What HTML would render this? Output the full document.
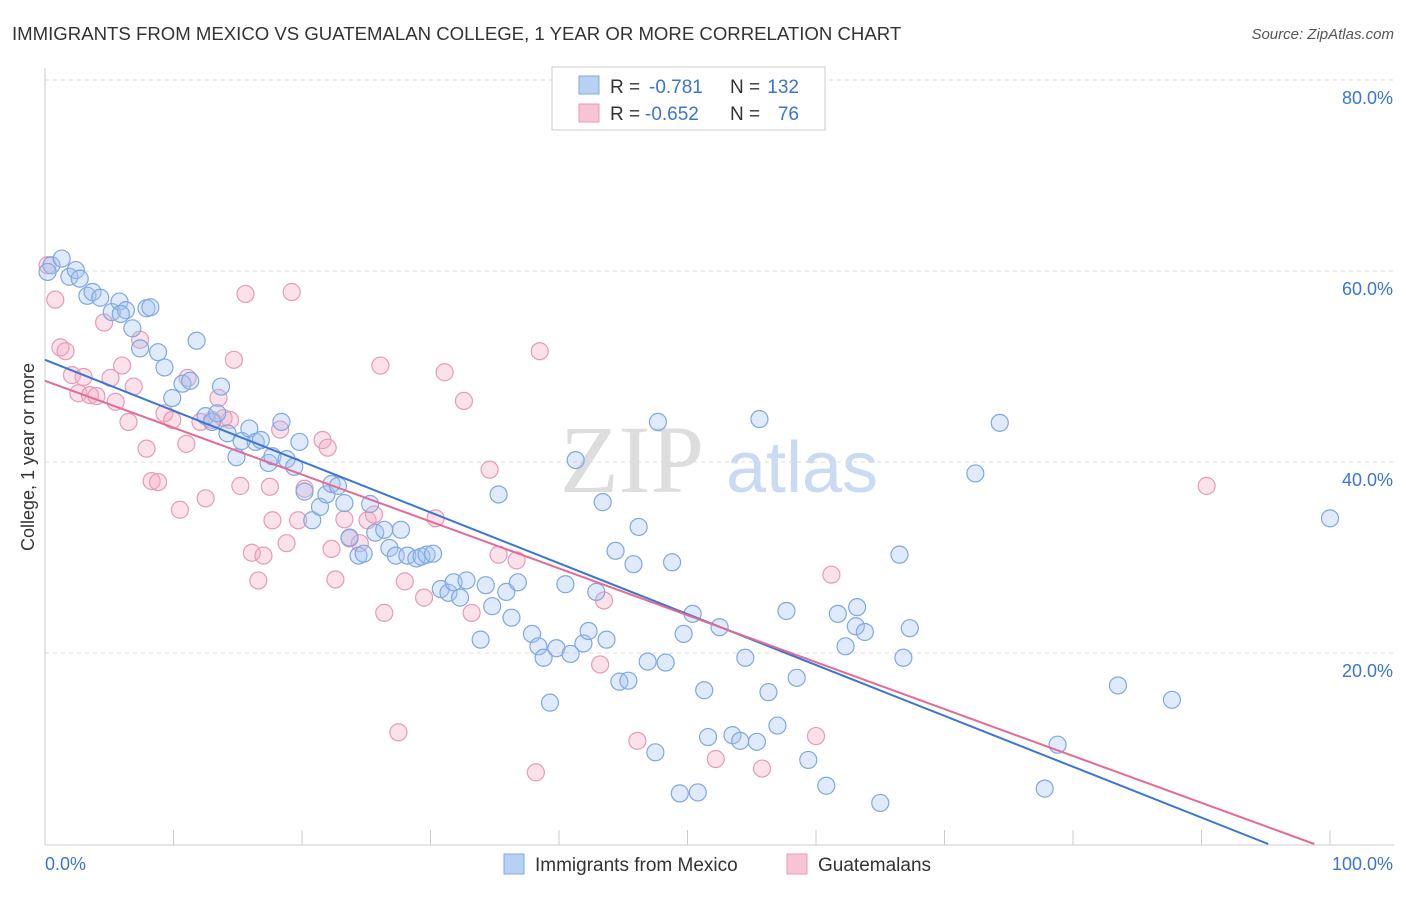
<!DOCTYPE html>
<html><head><meta charset="utf-8"><style>
body{margin:0;background:#fff;font-family:"Liberation Sans",sans-serif}
</style></head><body>
<svg id="c" width="1406" height="892" xmlns="http://www.w3.org/2000/svg">
<text x="12" y="40" font-size="18.6" fill="#333">IMMIGRANTS FROM MEXICO VS GUATEMALAN COLLEGE, 1 YEAR OR MORE CORRELATION CHART</text>
<text x="1394" y="39" font-size="15" fill="#555" font-style="italic" text-anchor="end">Source: ZipAtlas.com</text>
<text x="632" y="492" font-size="96" fill="#ddd" font-family="Liberation Serif,serif" text-anchor="middle">ZIP</text>
<text x="802" y="492" font-size="72" fill="#c9daf3" text-anchor="middle">atlas</text>
<text transform="translate(34,457) rotate(-90)" font-size="18" fill="#333" text-anchor="middle">College, 1 year or more</text>
<g id="grid"></g><g id="pts"></g><g id="lines"></g>
<g>
<rect x="552" y="67" width="273" height="63" fill="#fff" stroke="#ccc"/>
<rect x="579" y="76" width="20" height="18" fill="#b8d0f4" stroke="#7fa8e0"/>
<rect x="579" y="104" width="20" height="18" fill="#f7c4d5" stroke="#e89ab5"/>
<text x="610" y="93" font-size="19" fill="#333">R =</text>
<text x="649" y="93" font-size="19" fill="#3b74d4">-0.781</text>
<text x="730" y="93" font-size="19" fill="#333">N =</text>
<text x="799" y="93" font-size="19" fill="#3b74d4" text-anchor="end">132</text>
<text x="610" y="120" font-size="19" fill="#333">R =</text>
<text x="645" y="120" font-size="19" fill="#3b74d4">-0.652</text>
<text x="730" y="120" font-size="19" fill="#333">N =</text>
<text x="799" y="120" font-size="19" fill="#3b74d4" text-anchor="end">76</text>
</g>
<g>
<rect x="504" y="854" width="20" height="20" fill="#b8d0f4" stroke="#7fa8e0"/>
<text x="535" y="871" font-size="19" fill="#333">Immigrants from Mexico</text>
<rect x="787" y="854" width="20" height="20" fill="#f7c4d5" stroke="#e89ab5"/>
<text x="818" y="871" font-size="19" fill="#333">Guatemalans</text>
</g>
<text x="45" y="870" font-size="18" fill="#3b74d4">0.0%</text>
<text x="1393" y="870" font-size="18" fill="#3b74d4" text-anchor="end">100.0%</text>
</svg>
<script>
const yTicks=[20,40,60,80];
const yTickLabels=["20.0%","40.0%","60.0%","80.0%"];
const xTicks=[0,10,20,30,40,50,60,70,80,90,100];
const blueX=[0.5,1.3,1.9,2.4,2.7,3.3,3.7,4.3,5.2,5.8,6.3,6.8,7.4,7.9,8.2,8.8,9.3,9.9,10.7,11.3,11.8,12.5,13.0,13.4,13.7,14.2,14.9,15.3,15.9,16.4,16.8,17.4,17.7,18.4,18.8,19.4,19.8,20.2,20.8,21.4,21.9,22.3,22.8,23.3,23.7,24.4,24.8,25.3,25.7,26.4,26.8,27.3,27.7,28.2,28.9,29.3,29.7,30.2,30.8,31.4,31.8,32.3,32.8,33.9,34.3,34.8,35.9,36.3,36.8,35.3,37.9,38.4,38.8,39.3,39.8,40.5,40.9,41.3,41.9,42.3,42.9,43.4,43.7,44.4,44.7,45.4,45.8,46.2,46.9,47.5,47.7,48.3,48.8,49.4,49.7,50.4,50.8,51.3,51.6,52.5,53.5,54.1,54.5,55.4,55.6,56.3,57.0,57.7,58.5,59.4,60.8,61.7,62.3,63.2,63.1,63.8,65.0,66.5,66.8,67.3,72.4,74.3,77.8,78.8,83.5,87.7,100,0.2,5.9];
const blueY=[60.6,61.3,59.4,60.1,59.2,57.4,57.8,57.2,55.7,56.8,55.9,54.0,51.9,56.1,56.2,51.5,49.9,46.7,48.2,48.5,52.7,44.8,44.2,45.1,47.9,43.0,40.5,42.2,43.5,42.1,42.3,39.9,40.6,44.2,40.3,39.5,42.1,36.9,33.9,35.3,36.6,37.7,37.5,35.7,32.1,30.2,30.4,35.6,32.6,32.9,31.0,30.2,32.9,30.2,29.9,30.1,30.3,30.4,26.7,26.3,27.4,25.8,27.6,21.4,27.1,24.9,26.4,23.7,27.4,36.6,22.0,20.7,19.5,14.8,20.5,27.2,19.9,40.2,21.0,22.3,26.4,35.8,21.4,30.7,17.0,17.1,29.3,33.2,19.1,9.6,44.2,19.0,29.5,5.3,22.0,24.1,5.4,16.1,11.2,22.7,11.4,10.8,19.5,10.7,44.5,15.9,12.4,24.4,17.4,8.8,6.1,24.1,20.7,24.8,22.8,22.2,4.3,30.3,19.5,22.6,38.8,44.1,5.8,10.4,16.6,15.1,34.1,59.9,55.5];
const pinkX=[0.2,0.8,1.2,1.6,2.1,2.6,3.0,3.5,4.0,4.6,5.1,5.5,6.0,6.5,6.9,7.4,7.9,8.3,8.8,9.3,9.9,10.5,11.0,11.1,12.1,12.5,13.0,13.5,13.9,14.4,14.7,15.2,15.6,16.1,16.6,17.0,17.5,17.7,18.3,18.8,19.2,19.7,20.2,21.6,22.0,22.3,22.6,23.3,23.7,24.5,25.1,25.6,26.1,26.4,27.5,28.0,29.5,30.4,31.1,32.6,33.2,34.6,35.3,36.7,38.2,38.5,43.2,43.5,46.1,52.2,55.8,60.0,61.2,90.4];
const pinkY=[60.6,57.0,52.0,51.6,49.1,47.2,48.9,47.0,46.9,54.6,48.8,46.3,50.1,44.2,47.9,52.8,41.4,38.0,37.9,45.1,44.4,35.0,41.9,48.8,44.2,36.2,44.4,46.7,44.6,44.4,50.7,37.5,57.6,30.5,27.6,30.2,37.4,33.9,43.4,31.5,57.8,33.9,37.2,42.3,41.5,30.9,27.7,34.0,32.0,31.5,33.9,34.5,50.1,24.2,11.7,27.5,25.8,34.1,49.4,46.4,24.2,39.2,30.3,29.7,7.5,51.6,18.8,25.5,10.8,8.9,7.9,11.3,28.2,37.5];
const blueFit=[50.7,-0.5326];
const pinkFit=[48.5,-0.491];
const NS='http://www.w3.org/2000/svg';
const X=v=>45+v*12.85, Y=v=>844-v*9.55;
function mk(t,a,p){const e=document.createElementNS(NS,t);for(const k in a)e.setAttribute(k,a[k]);p.appendChild(e);return e;}
const grid=document.getElementById('grid'),pts=document.getElementById('pts'),lines=document.getElementById('lines');
yTicks.forEach((t,i)=>{
 const l=mk('line',{x1:45,x2:1394,y1:Y(t),y2:Y(t),stroke:'#ddd','stroke-dasharray':'4 4'},grid);
 
 
 const tx=mk('text',{x:1393,y:Y(t)+24,'font-size':18,fill:'#3b74d4','text-anchor':'end'},grid);
 tx.textContent=yTickLabels[i];
 
 
});
const ya=mk('line',{x1:45,x2:45,y1:68,y2:845,stroke:'#ccc'},grid);


const xa=mk('line',{x1:45,x2:1394,y1:845,y2:845,stroke:'#ccc'},grid);


xTicks.forEach(t=>{
 const l=mk('line',{x1:X(t),x2:X(t),y1:830,y2:845,stroke:'#ccc'},grid);
 
 
});
function dots(xs,ys,fill,stroke,name){
 xs.forEach((x,i)=>{
  const c=mk('circle',{cx:X(x),cy:Y(ys[i]),r:8.5,fill:fill,stroke:stroke,'stroke-width':1.2},pts);
  
  
 });
}
dots(pinkX,pinkY,'rgba(244,170,195,0.35)','#e89ab5','guatemalan-point');
dots(blueX,blueY,'rgba(164,194,244,0.35)','#7fa8e0','mexico-point');
function fit(f,color,name){
 const x1=-f[0]/f[1];
 const l=mk('line',{x1:X(0),y1:Y(f[0]),x2:X(x1),y2:Y(0),stroke:color,'stroke-width':2},lines);
 
 
}
fit(blueFit,'#3a75d4','mexico-trend-line');
fit(pinkFit,'#e46a94','guatemalan-trend-line');
</script>
</body></html>
